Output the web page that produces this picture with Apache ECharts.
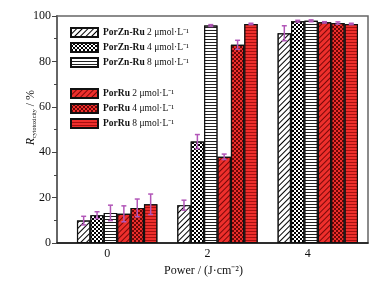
<!DOCTYPE html>
<html>
<head>
<meta charset="utf-8">
<script src="https://cdn.jsdelivr.net/npm/echarts@6/dist/echarts.min.js"></script>
<style>
	html, body { margin: 0; padding: 0; background: #fff; }
	#chart { width: 385px; height: 282px; }
</style>
</head>
<body>
<div id="chart"></div>
<script>
// power dose, J/cm2
var powers = [0, 2, 4];

var seriesNames = [
	'PorZn-Ru 2 μmol·L⁻¹', 'PorZn-Ru 4 μmol·L⁻¹', 'PorZn-Ru 8 μmol·L⁻¹',
	'PorRu 2 μmol·L⁻¹', 'PorRu 4 μmol·L⁻¹', 'PorRu 8 μmol·L⁻¹'
];

// cytotoxicity (%) and error per series, one value per power
var znRu2 = [9.9, 16.7, 92.4];
var znRu4 = [12.3, 44.7, 97.7];
var znRu8 = [13.3, 95.8, 97.9];
var ru2 = [12.9, 38.0, 97.2];
var ru4 = [15.5, 87.3, 96.9];
var ru8 = [17.1, 96.5, 96.5];

var znRu2Err = [1.9, 2.2, 3.3];
var znRu4Err = [1.5, 3.1, 0.4];
var znRu8Err = [3.4, 0.4, 0.4];
var ru2Err = [3.5, 1.2, 0.3];
var ru4Err = [3.9, 2.0, 0.5];
var ru8Err = [4.5, 0.3, 0.3];

var values = [znRu2, znRu4, znRu8, ru2, ru4, ru8];
var errors = [znRu2Err, znRu4Err, znRu8Err, ru2Err, ru4Err, ru8Err];

var FONT = 'Liberation Serif';
var RED = '#ee2f2c';
var BAR_W = 13.4;
var SPACER_W = 20;
var ERR_COLOR = '#b256b8';

var decals = [
	{ color: '#000', backgroundColor: '#fff', dashArrayX: [1, 0], dashArrayY: [1, 2.2], rotation: -Math.PI / 4 },
	{ color: '#000', backgroundColor: '#fff', symbol: 'rect', symbolSize: 1, dashArrayX: [[1.5, 1.5], [0, 1.5, 1.5, 0]], dashArrayY: [1.5, 0] },
	{ color: '#222', backgroundColor: '#fff', dashArrayX: [1, 0], dashArrayY: [1, 2], rotation: 0 },
	{ color: '#7a0808', backgroundColor: RED, dashArrayX: [1, 0], dashArrayY: [1, 2.2], rotation: -Math.PI / 4 },
	{ color: '#6a0606', backgroundColor: RED, symbol: 'rect', symbolSize: 1, dashArrayX: [[1.5, 1.5], [0, 1.5, 1.5, 0]], dashArrayY: [1.5, 0] },
	{ color: '#a81010', backgroundColor: RED, dashArrayX: [1, 0], dashArrayY: [1, 2], rotation: 0 }
];

var chart = echarts.init(document.getElementById('chart'));

var series = [];

// empty column that pushes each group right of its tick
series.push({
	type: 'bar',
	name: 'spacer',
	barWidth: SPACER_W,
	barGap: '0%',
	silent: true,
	data: powers.map(function(p) { return [p, '-']; })
});

values.forEach(function(vals, k)
{
	series.push({
		type: 'bar',
		name: seriesNames[k],
		barWidth: BAR_W,
		barGap: '0%',
		itemStyle: {
			color: k < 3 ? '#fff' : RED,
			borderColor: '#111',
			borderWidth: 1.2,
			decal: decals[k]
		},
		data: powers.map(function(p, i) { return [p, vals[i]]; })
	});
});

values.forEach(function(vals, k)
{
	var offset = (SPACER_W - 6 * BAR_W) / 2 + BAR_W * (k + 0.5);
	series.push({
		type: 'custom',
		name: 'err' + k,
		z: 5,
		silent: true,
		data: powers.map(function(p, i) { return [p, vals[i], errors[k][i]]; }),
		renderItem: function(params, api)
		{
			var x = api.value(0), v = api.value(1), e = api.value(2);
			var hi = api.coord([x, v + e]);
			var lo = api.coord([x, v - e]);
			var cx = hi[0] + offset;
			var cap = 2.5;
			var style = { stroke: ERR_COLOR, lineWidth: 1.5 };
			return {
				type: 'group',
				children: [
					{ type: 'line', shape: { x1: cx, y1: hi[1], x2: cx, y2: lo[1] }, style: style },
					{ type: 'line', shape: { x1: cx - cap, y1: hi[1], x2: cx + cap, y2: hi[1] }, style: style },
					{ type: 'line', shape: { x1: cx - cap, y1: lo[1], x2: cx + cap, y2: lo[1] }, style: style }
				]
			};
		}
	});
});

function legendFormatter(name)
{
	var i = name.indexOf(' ');
	return '{b|' + name.slice(0, i) + '}' + name.slice(i);
}

var legendBase = {
	orient: 'vertical',
	left: 70,
	padding: 0,
	icon: 'rect',
	itemWidth: 27,
	itemHeight: 9,
	itemGap: 4,
	selectedMode: false,
	formatter: legendFormatter,
	textStyle: {
		fontFamily: FONT,
		fontSize: 9.5,
		color: '#111',
		rich: { b: { fontFamily: FONT, fontSize: 9.5, fontWeight: 'bold', color: '#111' } }
	}
};

var options =
{
	animation: false,
	backgroundColor: '#fff',
	grid:
	{
		left: 57,
		right: 17,
		top: 16,
		bottom: 38,
		show: true,
		borderColor: '#666',
		borderWidth: 1.5,
		backgroundColor: 'transparent'
	},
	legend:
	[
		Object.assign({}, legendBase, { top: 27, data: seriesNames.slice(0, 3) }),
		Object.assign({}, legendBase, { top: 88, data: seriesNames.slice(3) })
	],
	xAxis:
	{
		type: 'value',
		min: -1,
		max: 5.2,
		name: 'Power / (J·cm⁻²)',
		nameLocation: 'middle',
		nameGap: 15,
		nameTextStyle: { fontFamily: FONT, fontSize: 12, color: '#111', padding: [0, 18, 0, 0] },
		axisLine: { show: true, onZero: false, lineStyle: { color: '#111', width: 1.5 } },
		axisTick: { show: true, inside: true, length: 4, customValues: powers, lineStyle: { color: '#111' } },
		axisLabel: { customValues: powers, margin: 5, fontFamily: FONT, fontSize: 12, color: '#111' },
		splitLine: { show: false }
	},
	yAxis:
	{
		type: 'value',
		min: 0,
		max: 100,
		interval: 20,
		name: '{i|R}{s|cytotoxicity} / %',
		nameLocation: 'middle',
		nameGap: 20,
		nameMoveOverlap: false,
		nameTextStyle: {
			fontFamily: FONT,
			fontSize: 12,
			color: '#111',
			padding: [0, 0, 0, 24],
			rich: {
				i: { fontFamily: FONT, fontSize: 12, fontStyle: 'italic', color: '#111', verticalAlign: 'middle' },
				s: { fontFamily: FONT, fontSize: 6, color: '#111', verticalAlign: 'bottom' }
			}
		},
		axisLine: { show: true, onZero: false, lineStyle: { color: '#666', width: 2 } },
		axisTick: { show: true, inside: false, length: 5, lineStyle: { color: '#444' } },
		minorTick: { show: true, splitNumber: 2, length: 3, lineStyle: { color: '#444' } },
		axisLabel: { margin: 6, fontFamily: FONT, fontSize: 12, color: '#111' },
		splitLine: { show: false }
	},
	series: series
};

chart.setOption(options);
</script>
</body>
</html>
